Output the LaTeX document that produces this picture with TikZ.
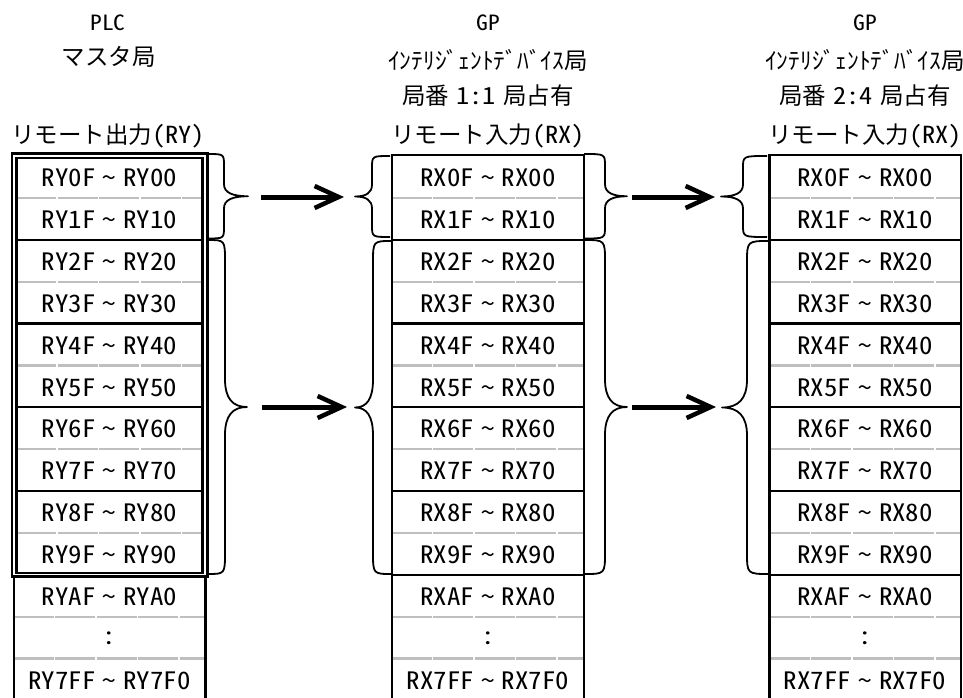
\documentclass[tikz,border=0pt]{standalone}
\usepackage{fontspec}
\setmainfont{Noto Sans CJK JP}
\newfontfamily\hw{Noto Sans CJK JP}[RawFeature=+hwid, FakeStretch=1.12]
\usetikzlibrary{arrows.meta}
\newcommand\mytilde{\hspace{0.3em}\char"007E\relax\hspace{0.3em}}
% brace: x-start, body x, tip x, top y, bottom y, corner radius, tip radius
\newcommand\mybrace[7]{%
  \draw[bracestyle] (#1,#4) .. controls (#2,#4) .. (#2,{#4+#6})
    -- (#2,{(#4+#5)/2-#7})
    .. controls (#2,{(#4+#5)/2-0.3*#7}) and ({#2+0.35*(#3-#2)},{(#4+#5)/2}) .. (#3,{(#4+#5)/2})
    .. controls ({#2+0.35*(#3-#2)},{(#4+#5)/2}) and (#2,{(#4+#5)/2+0.3*#7}) .. (#2,{(#4+#5)/2+#7})
    -- (#2,{#5-#6}) .. controls (#2,#5) .. (#1,#5);}
\begin{document}
\begin{tikzpicture}[x=1pt,y=-1pt,
  cell/.style={font=\hw\fontsize{24}{24}\selectfont, inner sep=0pt, anchor=center},
  head/.style={font=\fontsize{23.5}{23.5}\selectfont, inner sep=0pt, anchor=center},
  smallhead/.style={font=\hw\fontsize{21}{21}\selectfont, inner sep=0pt, anchor=center},
  frame/.style={line width=2.4pt},
  solidsep/.style={line width=2.4pt},
  dotsep/.style={line width=2.2pt, draw=gray!50, dash pattern=on 40pt off 1.5pt},
  bracestyle/.style={line width=1.8pt, line join=round},
  bigarrow/.style={line width=5pt, -{Straight Barb[length=24pt,width=22pt,line width=4.5pt]}}
]
\useasboundingbox (0,0) rectangle (963,698);
\fill[white] (0,0) rectangle (963,698);

% ---------- headers ----------
\node[smallhead] (h1a) at (108,23) {PLC};
\node[head] (h1b) at (108.5,57) {マスタ局};
\node[head] (h1c) at (108,136) {リモート出力{\hw(RY)}};

\node[smallhead] (h2a) at (488,23) {GP};
\node[head] (h2b) at (488,60) {ｲﾝﾃﾘｼﾞｪﾝﾄﾃﾞﾊﾞｲｽ局};
\node[head] (h2c) at (488,96) {局番\hspace{0.3em}{\hw 1:1}\hspace{0.3em}局占有};
\node[head] (h2d) at (488,136) {リモート入力{\hw(RX)}};

\node[smallhead] (h3a) at (865,23) {GP};
\node[head] (h3b) at (865,60) {ｲﾝﾃﾘｼﾞｪﾝﾄﾃﾞﾊﾞｲｽ局};
\node[head] (h3c) at (865,96) {局番\hspace{0.3em}{\hw 2:4}\hspace{0.3em}局占有};
\node[head] (h3d) at (865,136) {リモート入力{\hw(RX)}};

% ---------- column 1 ----------
\foreach \k in {1,3,5,7,9}
  \draw[dotsep] (16.3,{156+41.88*\k}) -- (202.5,{156+41.88*\k});
\foreach \k in {11,12}
  \draw[dotsep] (13.8,{156+41.88*\k}) -- (205.3,{156+41.88*\k});
\foreach \k in {2,4,6,8}
  \draw[solidsep] (16.3,{156+41.88*\k}) -- (202.5,{156+41.88*\k});
\draw[frame] (13.8,576) -- (13.8,703);
\draw[frame] (205.3,576) -- (205.3,703);
\draw[line width=2.8pt] (12,153.3) rectangle (207.6,576.8);
\draw[line width=2.4pt] (16.3,157.8) rectangle (202.5,573);

\foreach \dg [count=\k from 0] in {0,1,2,3,4,5,6,7,8,9,A}
  \node[cell] (pa\k) at (109.5,{156+41.88*(\k+0.5)+1}) {RY\dg F\mytilde RY\dg 0};
\node[cell] (pa11) at (109.5,{156+41.88*11.5+1}) {:};
\node[cell] (pa12) at (109.5,{156+41.88*12.5+1}) {RY7FF\mytilde RY7F0};

% ---------- columns 2 and 3 ----------
\foreach \xl/\xr/\nm in {391.7/584/pb, 769.5/960.7/pc} {
  \foreach \k in {1,3,5,7,9,11,12}
    \draw[dotsep] (\xl,{156+41.88*\k}) -- (\xr,{156+41.88*\k});
  \foreach \k in {2,4,6,8,10}
    \draw[solidsep] (\xl,{156+41.88*\k}) -- (\xr,{156+41.88*\k});
  \draw[frame] (\xl,703) -- (\xl,155) -- (\xr,155) -- (\xr,703);
  \foreach \dg [count=\k from 0] in {0,1,2,3,4,5,6,7,8,9,A}
    \node[cell] (\nm\k) at ({(\xl+\xr)/2},{156+41.88*(\k+0.5)+1}) {RX\dg F\mytilde RX\dg 0};
  \node[cell] (\nm11) at ({(\xl+\xr)/2},{156+41.88*11.5+1}) {:};
  \node[cell] (\nm12) at ({(\xl+\xr)/2},{156+41.88*12.5+1}) {RX7FF\mytilde RX7F0};
}

% ---------- braces ----------
\mybrace{207.6}{224}{248}{154}{238.5}{12}{12}
\mybrace{390}{372}{355}{156}{237}{12}{12}
\mybrace{207.6}{225}{247}{240}{574}{22}{28}
\mybrace{392}{373}{355}{241}{574}{22}{28}

\mybrace{584}{605}{627}{154}{238.5}{12}{12}
\mybrace{767}{743}{721}{156}{237}{12}{12}
\mybrace{584}{605}{627}{240}{574}{22}{28}
\mybrace{769.5}{747}{722}{241}{574}{22}{28}

\coordinate (t1a) at (248,197);
\coordinate (t1b) at (355,197);
\coordinate (t2a) at (247,407);
\coordinate (t2b) at (355,407);
\coordinate (t3a) at (627,197);
\coordinate (t3b) at (721,197);
\coordinate (t4a) at (627,407);
\coordinate (t4b) at (722,407);

% ---------- arrows ----------
\draw[bigarrow, shorten <=13pt, shorten >=11pt] (t1a) -- (t1b);
\draw[bigarrow, shorten <=15pt, shorten >=8pt] (t2a) -- (t2b);
\draw[bigarrow, shorten <=5pt, shorten >=6pt] (t3a) -- (t3b);
\draw[bigarrow, shorten <=5pt, shorten >=6pt] (t4a) -- (t4b);
\end{tikzpicture}
\end{document}
